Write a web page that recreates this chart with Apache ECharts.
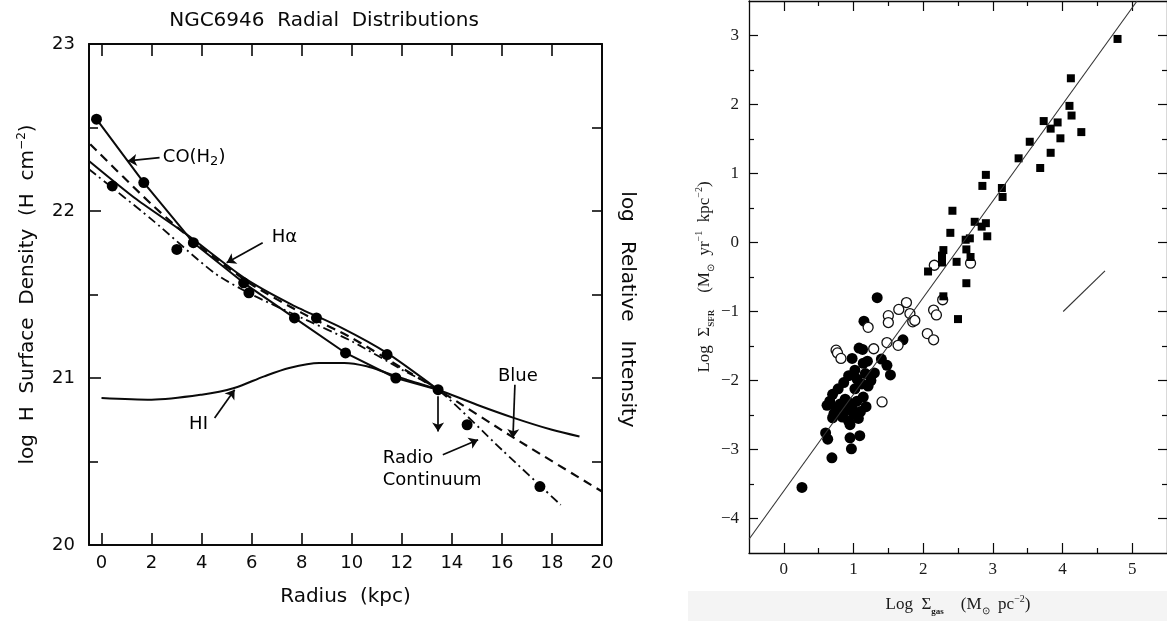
<!DOCTYPE html>
<html>
<head>
<meta charset="utf-8">
<script src="https://cdn.jsdelivr.net/npm/echarts@6/dist/echarts.min.js"></script>
<style>
  html, body { margin: 0; padding: 0; background: #fff; }
  #chart { width: 1167px; height: 621px; }
</style>
</head>
<body>
<div id="chart"></div>
<script>
(function () {

    var SANS = 'DejaVu Sans';
    var SERIF = 'Liberation Serif';
    var INK = '#0a0a0a';

    // ---- left panel : NGC6946 radial distributions ----
    var radiusTicks = [0, 2, 4, 6, 8, 10, 12, 14, 16, 18, 20];

    var dots = [
        [-0.2, 22.55], [0.43, 22.15], [1.69, 22.17], [3.01, 21.77], [3.67, 21.81],
        [5.68, 21.57], [5.89, 21.51], [7.71, 21.36], [8.59, 21.36], [9.75, 21.15],
        [11.41, 21.14], [11.76, 21.00], [13.45, 20.93], [14.61, 20.72], [17.52, 20.35]
    ];
    var coLine = [
        [-0.2, 22.55], [1.69, 22.17], [3.67, 21.81], [5.68, 21.57], [7.71, 21.36],
        [9.75, 21.15], [11.76, 21.00], [13.45, 20.93]
    ];
    var haLine = [
        [-0.5, 22.30], [1.4, 22.07], [3.4, 21.86], [5.7, 21.60], [7.6, 21.44],
        [9.6, 21.30], [11.4, 21.15], [13.45, 20.93]
    ];
    var blueLine = [
        [-0.45, 22.40], [2, 22.04], [4, 21.78], [6, 21.56], [8, 21.39],
        [10, 21.24], [12, 21.06], [13.45, 20.93], [16.5, 20.64], [20, 20.32]
    ];
    var radioLine = [
        [-0.5, 22.25], [2, 21.95], [4.5, 21.63], [6, 21.50],
        [8, 21.36], [10, 21.22], [12, 21.05], [13.45, 20.93],
        [16, 20.57], [18.35, 20.24]
    ];
    var hiLine = [
        [0, 20.88], [2, 20.87], [4, 20.90], [5.3, 20.94], [6.5, 21.01], [7.5, 21.06],
        [8.7, 21.09], [9.7, 21.09], [10.6, 21.07], [11.4, 21.03], [12.2, 20.99],
        [13.45, 20.93], [15, 20.84], [16.5, 20.76], [18, 20.69], [19.1, 20.65]
    ];
    var leftArrows = [
        [[2.32, 22.32], [1.05, 22.30]],
        [[6.44, 21.81], [5.0, 21.69]],
        [[4.52, 20.76], [5.32, 20.93]],
        [[16.52, 20.96], [16.44, 20.64]],
        [[13.64, 20.54], [15.05, 20.63]],
        [[13.45, 20.89], [13.45, 20.68]]
    ];
    var leftLabels = [
        [2.45, 22.32, 'CO(H{s|2})'],
        [6.8, 21.84, 'Hα'],
        [3.5, 20.72, 'HI'],
        [15.84, 21.01, 'Blue'],
        [11.24, 20.455, 'Radio\nContinuum']
    ];

    // ---- right panel : Log SFR vs Log gas ----
    var gasMajor = [0, 1, 2, 3, 4, 5];
    var gasMinor = [0.5, 1.5, 2.5, 3.5, 4.5];
    var sfrMajor = [-4, -3, -2, -1, 0, 1, 2, 3];
    var sfrMinor = [-3.5, -2.5, -1.5, -0.5, 0.5, 1.5, 2.5];

    var diskFilled = [
        [0.26, -3.55], [0.69, -3.12], [0.97, -2.99], [0.63, -2.85], [0.60, -2.76],
        [0.95, -2.83], [1.09, -2.80], [0.95, -2.64], [0.70, -2.54], [0.84, -2.53],
        [0.93, -2.59], [1.07, -2.55], [0.72, -2.48], [1.00, -2.48], [1.10, -2.45],
        [0.62, -2.36], [0.81, -2.34], [0.93, -2.32], [1.18, -2.38], [0.88, -2.27],
        [1.14, -2.24], [0.70, -2.20], [0.78, -2.12], [1.02, -2.12], [1.21, -2.08],
        [0.86, -2.03], [1.05, -1.98], [0.93, -1.93], [1.30, -1.89], [1.53, -1.92],
        [1.26, -1.92], [1.14, -1.75], [0.98, -1.68], [1.40, -1.69], [1.48, -1.78],
        [1.20, -1.72], [1.08, -1.53], [1.13, -1.55], [1.15, -1.14], [1.34, -0.80],
        [1.71, -1.41], [0.75, -2.40], [1.12, -2.05], [0.98, -2.40], [0.87, -2.45],
        [1.05, -2.30], [1.25, -2.00], [1.02, -1.85], [0.66, -2.30], [1.17, -1.90]
    ];
    var centerOpen = [
        [2.16, -0.33], [2.68, -0.30], [2.28, -0.83], [1.76, -0.87], [1.65, -0.97],
        [1.81, -1.03], [1.85, -1.15], [1.88, -1.13], [2.15, -0.98], [2.19, -1.05],
        [1.50, -1.06], [1.50, -1.16], [2.06, -1.32], [2.15, -1.41], [1.48, -1.45],
        [1.64, -1.49], [1.21, -1.23], [1.29, -1.54], [0.75, -1.56], [0.77, -1.60],
        [0.82, -1.68], [1.41, -2.31]
    ];
    var starburst = [
        [4.79, 2.95], [4.12, 2.38], [4.10, 1.98], [4.13, 1.84], [4.27, 1.60],
        [3.73, 1.76], [3.93, 1.74], [3.83, 1.65], [3.97, 1.51], [3.53, 1.46],
        [3.83, 1.30], [3.37, 1.22], [3.68, 1.08], [2.90, 0.98], [2.85, 0.82],
        [3.13, 0.79], [3.14, 0.66], [2.42, 0.46], [2.74, 0.30], [2.90, 0.28],
        [2.84, 0.23], [2.92, 0.09], [2.39, 0.14], [2.61, 0.04], [2.67, 0.06],
        [2.62, -0.10], [2.29, -0.11], [2.27, -0.19], [2.27, -0.29], [2.48, -0.28],
        [2.68, -0.21], [2.62, -0.59], [2.29, -0.78], [2.50, -1.11], [2.07, -0.42]
    ];
    var fitLine = [[-0.5, -4.30], [5.07, 3.50]];
    var slopeOneLine = [[4.01, -1.0], [4.61, -0.41]];

    function minus(v) {
        return v < 0 ? '\u2212' + Math.abs(v) : String(v);
    }

    function tickAxis(grid, pos, min, max, values, len, opts) {
        var a = {
            type: 'value', gridIndex: grid, position: pos, min: min, max: max,
            splitLine: { show: false },
            axisLine: { show: true, onZero: false, lineStyle: { color: INK, width: opts.lineWidth || 1.3 } },
            axisTick: { show: true, inside: true, length: len, lineStyle: { color: INK, width: opts.tickWidth || 1.2 } },
            axisLabel: { show: false }
        };
        if (values) {
            a.axisTick.customValues = values;
        }
        if (opts.interval) {
            a.interval = opts.interval;
        }
        if (opts.noLine) {
            a.axisLine.show = false;
        }
        return a;
    }

    var supRich = {
        sup: { fontSize: 12, lineHeight: 12, verticalAlign: 'top', fontFamily: SANS }
    };
    var serifRich = {
        b: { fontSize: 9, fontWeight: 'bold', lineHeight: 9, verticalAlign: 'bottom', fontFamily: SERIF },
        s: { fontSize: 10, lineHeight: 10, verticalAlign: 'bottom' },
        p: { fontSize: 10, lineHeight: 10, verticalAlign: 'top', fontFamily: SERIF }
    };

    // left panel axes
    var xLeft = tickAxis(0, 'bottom', -0.5, 20, radiusTicks, 12, { lineWidth: 2, tickWidth: 1.6 });
    xLeft.axisLabel = { show: true, customValues: radiusTicks, margin: 9, fontFamily: SANS, fontSize: 18, color: INK };
    xLeft.name = 'Radius  (kpc)';
    xLeft.nameLocation = 'middle';
    xLeft.nameGap = 42;
    xLeft.nameTextStyle = { fontFamily: SANS, fontSize: 20, color: INK };
    var xLeftTop = tickAxis(0, 'top', -0.5, 20, radiusTicks, 12, { lineWidth: 2, tickWidth: 1.6 });

    var yLeft = tickAxis(0, 'left', 20, 23, null, 12, { lineWidth: 2, tickWidth: 1.6, interval: 1 });
    yLeft.minorTick = { show: true, splitNumber: 2, length: 9, lineStyle: { color: INK, width: 1.6 } };
    yLeft.axisLabel = { show: true, margin: 14, fontFamily: SANS, fontSize: 18, color: INK };
    yLeft.name = 'log  H  Surface  Density  (H  cm{sup|\u22122})';
    yLeft.nameLocation = 'middle';
    yLeft.nameGap = 49;
    yLeft.nameTextStyle = { fontFamily: SANS, fontSize: 20, color: INK, lineHeight: 24, rich: supRich };
    var yLeftRight = tickAxis(0, 'right', 20, 23, null, 10, { lineWidth: 2, tickWidth: 1.6, interval: 0.5 });
    yLeftRight.name = 'log   Relative   Intensity';
    yLeftRight.nameLocation = 'middle';
    yLeftRight.nameRotate = -90;
    yLeftRight.nameGap = 15;
    yLeftRight.nameTextStyle = { fontFamily: SANS, fontSize: 20, color: INK, padding: [0, 0, 0, 30] };

    // right panel axes
    var xRight = tickAxis(1, 'bottom', -0.5, 5.5, gasMajor, 10, {});
    xRight.axisLabel = { show: true, customValues: gasMajor, margin: 8, fontFamily: SERIF, fontSize: 17, color: '#1a1a1a' };
    xRight.name = 'Log  \u03a3{b|gas}    (M{s|\u2299}  pc{p|\u22122})';
    xRight.nameLocation = 'middle';
    xRight.nameGap = 41;
    xRight.nameTextStyle = { fontFamily: SERIF, fontSize: 17, color: '#1a1a1a', lineHeight: 22, rich: serifRich };
    var xRightMinor = tickAxis(1, 'bottom', -0.5, 5.5, gasMinor, 5, { noLine: true });
    var xRightTop = tickAxis(1, 'top', -0.5, 5.5, gasMajor, 10, {});
    var xRightTopMinor = tickAxis(1, 'top', -0.5, 5.5, gasMinor, 5, { noLine: true });

    var yRight = tickAxis(1, 'left', -4.5, 3.5, sfrMajor, 9, {});
    yRight.axisLabel = { show: true, customValues: sfrMajor, margin: 10, fontFamily: SERIF, fontSize: 17, color: '#1a1a1a', formatter: minus };
    yRight.name = 'Log  \u03a3{b|SFR}    (M{s|\u2299}  yr{p|\u22121}  kpc{p|\u22122})';
    yRight.nameLocation = 'middle';
    yRight.nameGap = 33;
    yRight.nameTextStyle = { fontFamily: SERIF, fontSize: 17, color: '#1a1a1a', lineHeight: 22, rich: serifRich };
    var yRightMinor = tickAxis(1, 'left', -4.5, 3.5, sfrMinor, 5, { noLine: true });
    var yRightSide = tickAxis(1, 'right', -4.5, 3.5, sfrMajor, 9, {});
    var yRightSideMinor = tickAxis(1, 'right', -4.5, 3.5, sfrMinor, 5, { noLine: true });

    var chart = echarts.init(document.getElementById('chart'), null, { renderer: 'canvas' });

    var option = {
        backgroundColor: '#fff',
        animation: false,
        graphic: [
            {
                type: 'rect', z: -10, silent: true,
                shape: { x: 688, y: 591, width: 479, height: 30 },
                style: { fill: '#f4f4f4' }
            },
            {
                type: 'text', x: 324, y: 21, silent: true,
                style: {
                    text: 'NGC6946  Radial  Distributions', fontFamily: SANS, fontSize: 20,
                    fill: INK, textAlign: 'center', textVerticalAlign: 'middle'
                }
            }
        ],
        grid: [
            { left: 89, top: 44, width: 513, height: 501 },
            { left: 749, top: 1, right: -5, bottom: 60 }
        ],
        xAxis: [xLeft, xLeftTop, xRight, xRightMinor, xRightTop, xRightTopMinor],
        yAxis: [yLeft, yLeftRight, yRight, yRightMinor, yRightSide, yRightSideMinor],
        series: [
            {
                name: 'HI', type: 'line', xAxisIndex: 0, yAxisIndex: 0, data: hiLine,
                smooth: 0.3, symbol: 'none', lineStyle: { color: INK, width: 2 }
            },
            {
                name: 'Radio Continuum', type: 'line', xAxisIndex: 0, yAxisIndex: 0, data: radioLine,
                smooth: 0.25, symbol: 'none', lineStyle: { color: INK, width: 1.8, type: [9, 4, 2, 4] }
            },
            {
                name: 'Blue', type: 'line', xAxisIndex: 0, yAxisIndex: 0, data: blueLine,
                smooth: 0.25, symbol: 'none', lineStyle: { color: INK, width: 2.2, type: [9, 6] }
            },
            {
                name: 'Halpha', type: 'line', xAxisIndex: 0, yAxisIndex: 0, data: haLine,
                smooth: 0.25, symbol: 'none', lineStyle: { color: INK, width: 2 }
            },
            {
                name: 'CO', type: 'line', xAxisIndex: 0, yAxisIndex: 0, data: coLine,
                symbol: 'none', lineStyle: { color: INK, width: 2 }
            },
            {
                name: 'dots', type: 'scatter', xAxisIndex: 0, yAxisIndex: 0, data: dots,
                symbol: 'circle', symbolSize: 11, itemStyle: { color: '#000', opacity: 1 }, z: 4
            },
            {
                name: 'arrows', type: 'lines', coordinateSystem: 'cartesian2d', xAxisIndex: 0, yAxisIndex: 0,
                symbol: ['none', 'arrow'], symbolSize: 9, silent: true, z: 5,
                lineStyle: { color: INK, width: 1.7, opacity: 1, curveness: 0 },
                data: leftArrows.map(function (a) { return { coords: a }; })
            },
            {
                name: 'labels', type: 'scatter', xAxisIndex: 0, yAxisIndex: 0, symbolSize: 0, silent: true,
                itemStyle: { opacity: 1 },
                data: leftLabels.map(function (l) {
                    return { value: [l[0], l[1]], label: { formatter: l[2] } };
                }),
                label: {
                    show: true, position: 'right', distance: 0, fontFamily: SANS, fontSize: 18,
                    color: '#000', lineHeight: 22,
                    rich: { s: { fontSize: 13, lineHeight: 13, verticalAlign: 'bottom', fontFamily: SANS, color: '#000' } }
                }
            },

            {
                name: 'fit', type: 'line', xAxisIndex: 2, yAxisIndex: 2, data: fitLine,
                symbol: 'none', lineStyle: { color: '#333', width: 1.1 }
            },
            {
                name: 'slope1', type: 'line', xAxisIndex: 2, yAxisIndex: 2, data: slopeOneLine,
                symbol: 'none', lineStyle: { color: '#333', width: 1.1 }
            },
            {
                name: 'disks', type: 'scatter', xAxisIndex: 2, yAxisIndex: 2, data: diskFilled,
                symbol: 'circle', symbolSize: 11, itemStyle: { color: '#000', opacity: 1 }
            },
            {
                name: 'centers', type: 'scatter', xAxisIndex: 2, yAxisIndex: 2, data: centerOpen,
                symbol: 'circle', symbolSize: 10,
                itemStyle: { color: '#fff', borderColor: '#111', borderWidth: 1.3, opacity: 1 }
            },
            {
                name: 'starbursts', type: 'scatter', xAxisIndex: 2, yAxisIndex: 2, data: starburst,
                symbol: 'rect', symbolSize: 8, itemStyle: { color: '#000', opacity: 1 }
            }
        ]
    };

    chart.setOption(option);

})();
</script>
</body>
</html>
